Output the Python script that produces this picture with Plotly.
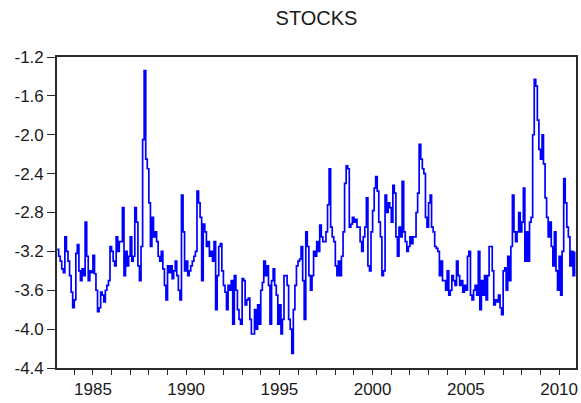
import pandas as pd
import plotly.graph_objects as go

# Monthly log stock series, Feb 1983 - Nov 2010
start_month = "1983-02-01"
stocks = [
    -3.18, -3.25, -3.30, -3.38, -3.42, -3.05, -3.20, -3.30, -3.45, -3.62,
    -3.78, -3.70, -3.22, -3.13, -3.40, -3.50, -3.38, -3.45, -2.90, -3.25,
    -3.50, -3.40, -3.42, -3.24, -3.43, -3.60, -3.82, -3.78, -3.62, -3.65,
    -3.72, -3.60, -3.55, -3.50, -3.15, -3.20, -3.30, -3.35, -3.05, -3.20,
    -3.10, -3.10, -2.75, -3.45, -3.20, -3.35, -3.25, -3.05, -3.30, -3.25,
    -2.75, -2.90, -3.35, -3.50, -3.15, -2.05, -1.34, -2.25, -2.35, -2.70,
    -3.15, -2.85, -3.05, -3.00, -3.10, -3.25, -3.30, -3.20, -3.38, -3.55,
    -3.70, -3.35, -3.42, -3.35, -3.48, -3.40, -3.30, -3.45, -3.60, -3.70,
    -2.62, -3.00, -3.40, -3.30, -3.45, -3.40, -3.35, -3.30, -3.25, -3.20,
    -2.58, -2.70, -2.85, -3.50, -2.92, -3.00, -3.15, -3.10, -3.25, -3.20,
    -3.30, -3.10, -3.80, -3.45, -3.15, -3.12, -3.40, -3.55, -3.62, -3.80,
    -3.55, -3.60, -3.50, -3.95, -3.45, -3.60, -3.80, -3.90, -3.95, -3.48,
    -3.50, -3.75, -3.70, -3.68, -3.90, -4.05, -4.05, -3.80, -4.00, -3.75,
    -3.95, -3.60, -3.52, -3.30, -3.45, -3.35, -3.55, -3.95, -3.50, -3.38,
    -3.55, -3.65, -3.95, -3.75, -4.05, -3.90, -3.45, -3.45, -3.55, -3.90,
    -4.00, -4.25, -3.80, -3.55, -3.35, -3.30, -3.28, -3.15, -3.50, -3.90,
    -3.00, -3.15, -3.45, -3.60, -3.45, -3.20, -3.25, -3.10, -3.20, -2.93,
    -3.05, -3.10, -3.10, -3.00, -2.72, -2.35, -2.95, -3.05, -3.10, -3.35,
    -3.45, -3.30, -3.45, -3.25, -3.00, -2.50, -2.32, -2.35, -2.95, -2.92,
    -2.85, -2.90, -2.87, -2.95, -2.95, -3.10, -3.20, -3.05, -2.95, -2.65,
    -3.35, -3.40, -3.00, -2.78, -2.55, -2.43, -2.58, -2.90, -3.05, -3.45,
    -3.40, -2.62, -2.80, -2.70, -2.75, -2.90, -2.52, -2.60, -3.05, -3.25,
    -2.95, -3.05, -2.48, -3.00, -3.10, -3.20, -3.15, -3.05, -3.12, -3.05,
    -3.05, -2.80, -2.60, -2.10, -2.25, -2.35, -2.40, -2.85, -2.95, -2.70,
    -2.62, -2.95, -3.00, -3.15, -3.17, -3.20, -3.45, -3.30, -3.50, -3.50,
    -3.60, -3.40, -3.65, -3.60, -3.45, -3.50, -3.55, -3.30, -3.45, -3.55,
    -3.50, -3.62, -3.55, -3.60, -3.25, -3.20, -3.65, -3.70, -3.60, -3.55,
    -3.65, -3.20, -3.80, -3.50, -3.65, -3.45, -3.70, -3.45, -3.15, -3.15,
    -3.40, -3.75, -3.70, -3.72, -3.65, -3.78, -3.85, -3.40, -3.37, -3.60,
    -3.25, -3.50, -3.15, -2.62, -3.00, -3.10, -3.00, -2.80, -3.00, -2.90,
    -2.55, -3.30, -3.00, -3.30, -2.90, -2.85, -2.00, -1.43, -1.50, -1.85,
    -2.15, -2.25, -2.00, -2.30, -2.65, -2.85, -3.05, -2.90, -3.15, -3.35,
    -3.00, -3.40, -3.60, -3.25, -3.65, -3.20, -2.45, -2.70, -2.95, -3.05,
    -3.35, -3.20, -3.45, -3.20,
]
y_tick_values = [-1.2, -1.6, -2.0, -2.4, -2.8, -3.2, -3.6, -4.0, -4.4]
y_tick_labels = ["-1.2", "-1.6", "-2.0", "-2.4", "-2.8", "-3.2", "-3.6", "-4.0", "-4.4"]
x_tick_years = ["1985", "1990", "1995", "2000", "2005", "2010"]

dates = pd.date_range(start_month, periods=len(stocks), freq="MS")

fig = go.Figure(
    go.Scatter(
        x=dates,
        y=stocks,
        mode="lines",
        line=dict(color="#0000FF", width=1.7, shape="hv"),
        hoverinfo="x+y",
    )
)

text_family = "Liberation Sans, Arial, sans-serif"
axis_font = dict(family=text_family, size=17, color="#1a1a1a")
frame_color = "#2a2a2a"

fig.update_layout(
    width=581,
    height=403,
    margin=dict(l=57, r=3, t=57, b=35),
    paper_bgcolor="white",
    plot_bgcolor="white",
    showlegend=False,
    title=dict(
        text="STOCKS",
        x=0.5,
        xref="paper",
        xanchor="center",
        y=0.955,
        yanchor="middle",
        font=dict(family=text_family, size=20, color="#1a1a1a"),
    ),
    xaxis=dict(
        type="date",
        range=["1983-01-28", "2010-11-28"],
        tickmode="array",
        tickvals=[f"{y}-01-01" for y in x_tick_years],
        ticktext=x_tick_years,
        ticks="outside",
        ticklen=5,
        tickwidth=1.3,
        tickcolor=frame_color,
        minor=dict(dtick="M12", tick0="1983-01-01", ticks="outside", ticklen=5,
                   tickwidth=1.3, tickcolor=frame_color, showgrid=False),
        showline=True,
        linecolor=frame_color,
        linewidth=1.6,
        mirror=True,
        showgrid=False,
        zeroline=False,
        tickfont=axis_font,
    ),
    yaxis=dict(
        range=[-4.4, -1.2],
        tickmode="array",
        tickvals=y_tick_values,
        ticktext=y_tick_labels,
        ticks="outside",
        ticklen=8,
        tickwidth=1.3,
        tickcolor=frame_color,
        showline=True,
        linecolor=frame_color,
        linewidth=1.6,
        mirror=True,
        showgrid=False,
        zeroline=False,
        tickfont=axis_font,
    ),
)

fig.write_html("out.html")
